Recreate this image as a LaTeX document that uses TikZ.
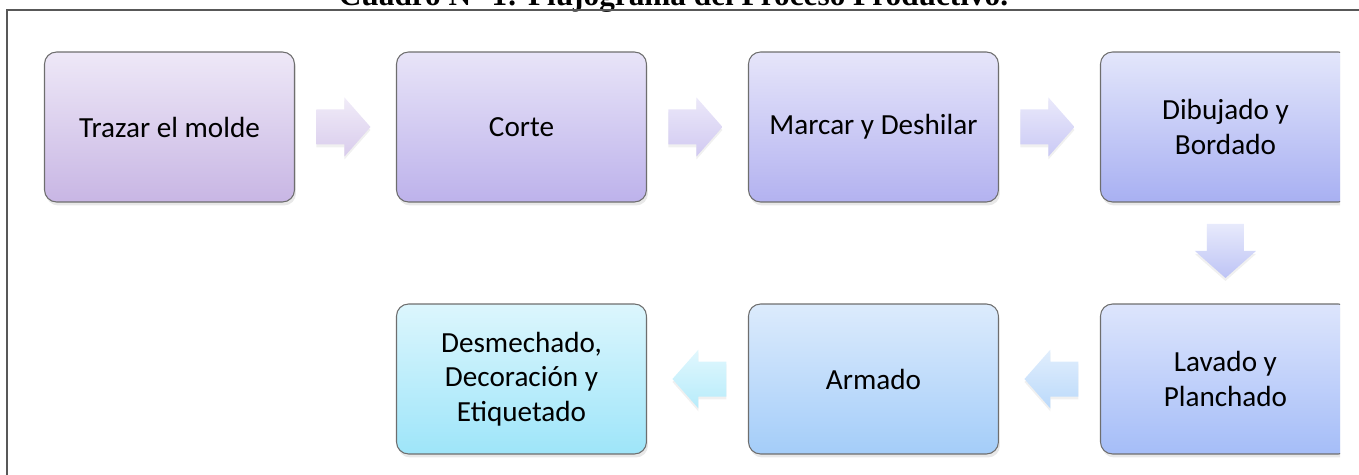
\documentclass[tikz,border=0pt]{standalone}
\usepackage{fontspec}
\setmainfont{Carlito}
\newfontfamily\titulo{Liberation Serif}
\usetikzlibrary{positioning,calc,shadows}

\definecolor{c1a}{HTML}{EEE8F7}\definecolor{c1b}{HTML}{C8B6E4}
\definecolor{c2a}{HTML}{E8E4F8}\definecolor{c2b}{HTML}{BDB2EB}
\definecolor{c3a}{HTML}{E6E5FA}\definecolor{c3b}{HTML}{B3B2F0}
\definecolor{c4a}{HTML}{E3E6FB}\definecolor{c4b}{HTML}{A8B0F2}
\definecolor{c5a}{HTML}{DDE5FC}\definecolor{c5b}{HTML}{A5BDF8}
\definecolor{c6a}{HTML}{DCEBFC}\definecolor{c6b}{HTML}{A4CDF9}
\definecolor{c7a}{HTML}{DCF6FD}\definecolor{c7b}{HTML}{9EE5F9}
\definecolor{borde}{HTML}{6E6E6E}

\tikzset{
  sombra/.style={drop shadow={shadow xshift=0.03cm, shadow yshift=-0.07cm, opacity=0.18}},
  sombrafl/.style={drop shadow={shadow xshift=0cm, shadow yshift=-0.06cm, opacity=0.12}},
  paso/.style={draw=borde, line width=0.6pt, rounded corners=0.24cm, sombra,
    minimum width=5cm, minimum height=3cm, align=center,
    font=\fontsize{16.6}{19.5}\selectfont},
  pics/flecha/.style 2 args={code={
    \path[sombrafl, top color=#1, bottom color=#2]
      (-29,-17.5) -- (-1,-17.5) -- (-1,-29.5) -- (25,0) -- (-1,29.5)
      -- (-1,17.5) -- (-29,17.5) -- cycle;}},
  pics/flechaabajo/.style 2 args={code={
    \path[sombrafl, top color=#1, bottom color=#2]
      (-18.5,-29) -- (18.5,-29) -- (18.5,-2) -- (30.5,-2) -- (0,25)
      -- (-30.5,-2) -- (-18.5,-2) -- cycle;}}
}

\begin{document}
\begin{tikzpicture}[x=0.02cm, y=-0.02cm, node distance=2.02cm]
  \useasboundingbox (0,0) rectangle (1359,475);
  \clip (0,0) rectangle (1359,475);
  % titulo y marco
  \node[font=\titulo\bfseries\fontsize{17.8}{20}\selectfont, anchor=base]
    (titulo) at (673.5,6) {Cuadro N° 1: Flujograma del Proceso Productivo.};
  \draw[borde!80!black, line width=0.9pt] (7,480) |- (1365,10);
  % pasos
  \begin{scope}
    \clip (0,0) rectangle (1340,475);
    \node[paso, top color=c1a, bottom color=c1b] (trazar) at (169.5,127) {Trazar el molde};
    \node[paso, top color=c2a, bottom color=c2b, right=of trazar] (corte) {Corte};
    \node[paso, top color=c3a, bottom color=c3b, right=of corte] (marcar) {Marcar y Deshilar};
    \node[paso, top color=c4a, bottom color=c4b, right=of marcar] (dibujado) {Dibujado y\\Bordado};
    \node[paso, top color=c5a, bottom color=c5b, below=of dibujado] (lavado) {Lavado y\\Planchado};
    \node[paso, top color=c6a, bottom color=c6b, left=of lavado] (armado) {Armado};
    \node[paso, top color=c7a, bottom color=c7b, left=of armado] (desmechado) {Desmechado,\\Decoración y\\Etiquetado};
  \end{scope}
  % flechas
  \pic at ($(trazar.east)!0.5!(corte.west)$) {flecha={c1a!85}{c1b!70}};
  \pic at ($(corte.east)!0.5!(marcar.west)$) {flecha={c2a!85}{c2b!70}};
  \pic at ($(marcar.east)!0.5!(dibujado.west)$) {flecha={c3a!85}{c3b!70}};
  \pic at ($(dibujado.south)!0.5!(lavado.north)$) {flechaabajo={c4a!85}{c4b!75}};
  \pic[xscale=-1] at ($(armado.east)!0.5!(lavado.west)$) {flecha={c6a!85}{c6b!75}};
  \pic[xscale=-1] at ($(desmechado.east)!0.5!(armado.west)$) {flecha={c7a!85}{c7b!75}};
\end{tikzpicture}
\end{document}
